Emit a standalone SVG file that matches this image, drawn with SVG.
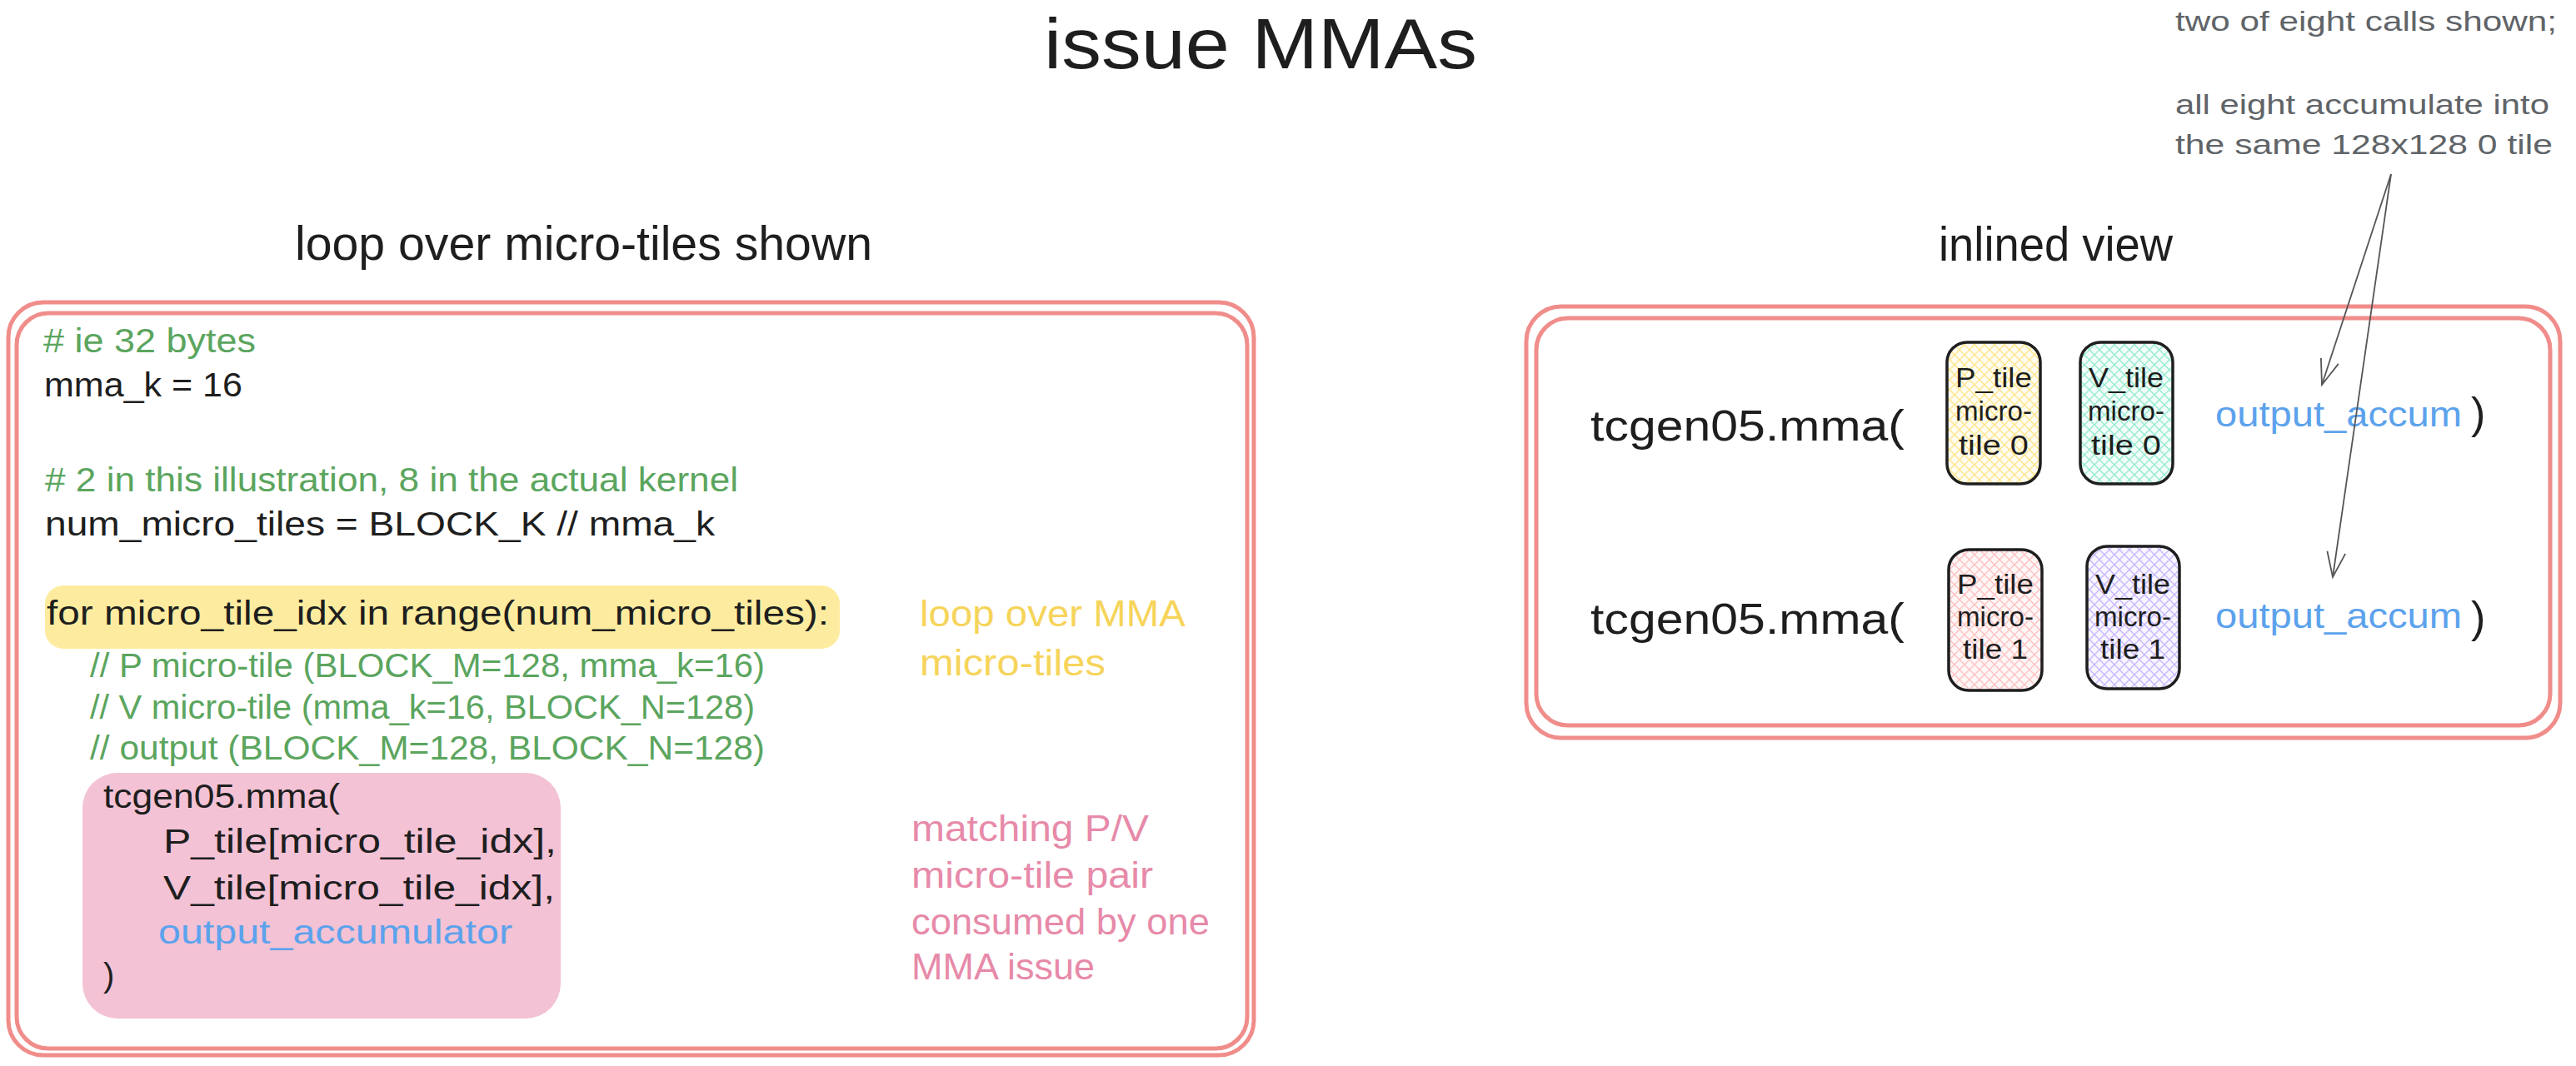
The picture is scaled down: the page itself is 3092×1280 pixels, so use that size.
<svg xmlns="http://www.w3.org/2000/svg" width="3092" height="1280" viewBox="0 0 3092 1280">
<style>
  text { font-family: "Liberation Sans", Arial, sans-serif; }
  .title { font-size: 86px; fill: #1e1e1e; }
  .head { font-size: 58px; fill: #1e1e1e; }
  .code { font-size: 40px; fill: #1e1e1e; }
  .cmt { fill: #5ba55e; }
  .blue { fill: #5ca2ec; }
  .note { font-size: 44px; }
  .yel { fill: #f6d45a; }
  .pnk { fill: #e78aa9; }
  .gray { font-size: 34px; fill: #606468; }
  .frame { fill: none; stroke: #f08d8a; stroke-width: 5; }
  .tile { stroke: #1e1e1e; stroke-width: 3.5; }
  .tt { font-size: 33px; fill: #1e1e1e; text-anchor: middle; }
  .big { font-size: 52px; fill: #1e1e1e; }
  .acc { font-size: 42px; }
  .conn { fill: none; stroke: #555; stroke-width: 1.8; }
</style>
<defs>
  <pattern id="hY" patternUnits="userSpaceOnUse" width="12" height="12"><rect width="12" height="12" fill="#fffdf2"/><path d="M0 0 L12 12 M12 0 L0 12" stroke="#ffe58a" stroke-width="1.4"/></pattern>
  <pattern id="hG" patternUnits="userSpaceOnUse" width="12" height="12"><rect width="12" height="12" fill="#f3fdf9"/><path d="M0 0 L12 12 M12 0 L0 12" stroke="#96ecd0" stroke-width="1.4"/></pattern>
  <pattern id="hR" patternUnits="userSpaceOnUse" width="12" height="12"><rect width="12" height="12" fill="#fff6f6"/><path d="M0 0 L12 12 M12 0 L0 12" stroke="#ffc2c2" stroke-width="1.4"/></pattern>
  <pattern id="hP" patternUnits="userSpaceOnUse" width="12" height="12"><rect width="12" height="12" fill="#f8f5ff"/><path d="M0 0 L12 12 M12 0 L0 12" stroke="#c9b8ff" stroke-width="1.4"/></pattern>
  <marker id="arr" markerUnits="userSpaceOnUse" markerWidth="40" markerHeight="30" viewBox="-35 -15 40 30" refX="0" refY="0" orient="auto">
    <path d="M-30 -11 L0 0 L-30 11" fill="none" stroke="#555" stroke-width="1.8"/>
  </marker>
</defs>
<rect width="3092" height="1280" fill="#ffffff"/>

<g id="title"><text class="title" x="1253" y="82" textLength="520" lengthAdjust="spacingAndGlyphs">issue MMAs</text></g>
<g id="left-heading"><text class="head" x="354" y="312" textLength="693" lengthAdjust="spacingAndGlyphs">loop over micro-tiles shown</text></g>
<g id="right-heading"><text class="head" x="2327" y="313" textLength="281" lengthAdjust="spacingAndGlyphs">inlined view</text></g>

<g id="note-gray">
  <text class="gray" x="2611" y="37" textLength="458" lengthAdjust="spacingAndGlyphs">two of eight calls shown;</text>
  <text class="gray" x="2611" y="137" textLength="449" lengthAdjust="spacingAndGlyphs">all eight accumulate into</text>
  <text class="gray" x="2611" y="185" textLength="453" lengthAdjust="spacingAndGlyphs">the same 128x128 0 tile</text>
</g>

<g id="left-frame">
  <rect class="frame" x="10" y="363" width="1495" height="904" rx="42"/>
  <rect class="frame" x="20" y="376" width="1477" height="883" rx="38"/>
</g>

<g id="code-block">
  <text class="code cmt" x="52" y="423" textLength="255" lengthAdjust="spacingAndGlyphs"># ie 32 bytes</text>
  <text class="code" x="53" y="476" textLength="238" lengthAdjust="spacingAndGlyphs">mma_k = 16</text>
  <text class="code cmt" x="54" y="590" textLength="832" lengthAdjust="spacingAndGlyphs"># 2 in this illustration, 8 in the actual kernel</text>
  <text class="code" x="54" y="643" textLength="804" lengthAdjust="spacingAndGlyphs">num_micro_tiles = BLOCK_K // mma_k</text>
</g>

<g id="loop-highlight">
  <rect x="54" y="703" width="954" height="76" rx="22" fill="#fdec9f"/>
  <text class="code" x="56" y="750" textLength="939" lengthAdjust="spacingAndGlyphs">for micro_tile_idx in range(num_micro_tiles):</text>
</g>

<g id="loop-comments">
  <text class="code cmt" x="108" y="813" textLength="810" lengthAdjust="spacingAndGlyphs">// P micro-tile (BLOCK_M=128, mma_k=16)</text>
  <text class="code cmt" x="108" y="863" textLength="798" lengthAdjust="spacingAndGlyphs">// V micro-tile (mma_k=16, BLOCK_N=128)</text>
  <text class="code cmt" x="108" y="912" textLength="810" lengthAdjust="spacingAndGlyphs">// output (BLOCK_M=128, BLOCK_N=128)</text>
</g>

<g id="mma-call">
  <rect x="99" y="928" width="574" height="295" rx="42" fill="#f3c2d5"/>
  <text class="code" x="124" y="970" textLength="284" lengthAdjust="spacingAndGlyphs">tcgen05.mma(</text>
  <text class="code" x="196" y="1024" textLength="472" lengthAdjust="spacingAndGlyphs">P_tile[micro_tile_idx],</text>
  <text class="code" x="196" y="1080" textLength="470" lengthAdjust="spacingAndGlyphs">V_tile[micro_tile_idx],</text>
  <text class="code blue" x="190" y="1133" textLength="425" lengthAdjust="spacingAndGlyphs">output_accumulator</text>
  <text class="code" x="124" y="1185">)</text>
</g>

<g id="note-loop">
  <text class="note yel" x="1104" y="752" textLength="319" lengthAdjust="spacingAndGlyphs">loop over MMA</text>
  <text class="note yel" x="1104" y="811" textLength="223" lengthAdjust="spacingAndGlyphs">micro-tiles</text>
</g>

<g id="note-pair">
  <text class="note pnk" x="1094" y="1010" textLength="285" lengthAdjust="spacingAndGlyphs">matching P/V</text>
  <text class="note pnk" x="1094" y="1066" textLength="290" lengthAdjust="spacingAndGlyphs">micro-tile pair</text>
  <text class="note pnk" x="1094" y="1122" textLength="358" lengthAdjust="spacingAndGlyphs">consumed by one</text>
  <text class="note pnk" x="1094" y="1176" textLength="220" lengthAdjust="spacingAndGlyphs">MMA issue</text>
</g>

<g id="right-frame">
  <rect class="frame" x="1832" y="368" width="1241" height="518" rx="42"/>
  <rect class="frame" x="1844" y="382" width="1217" height="489" rx="38"/>
</g>

<g id="call-0">
  <text class="big" x="1909" y="529" textLength="377" lengthAdjust="spacingAndGlyphs">tcgen05.mma(</text>
  <text class="acc blue" x="2659" y="512" textLength="296" lengthAdjust="spacingAndGlyphs">output_accum</text>
  <text class="big" x="2966" y="514">)</text>
</g>
<g id="P-tile-0">
  <rect class="tile" x="2337" y="411" width="112" height="170" rx="24" fill="url(#hY)"/>
  <text class="tt" x="2393" y="465" textLength="92" lengthAdjust="spacingAndGlyphs">P_tile</text>
  <text class="tt" x="2393" y="505" textLength="92" lengthAdjust="spacingAndGlyphs">micro-</text>
  <text class="tt" x="2393" y="546" textLength="84" lengthAdjust="spacingAndGlyphs">tile 0</text>
</g>
<g id="V-tile-0">
  <rect class="tile" x="2497" y="411" width="111" height="170" rx="24" fill="url(#hG)"/>
  <text class="tt" x="2552" y="465" textLength="90" lengthAdjust="spacingAndGlyphs">V_tile</text>
  <text class="tt" x="2552" y="505" textLength="92" lengthAdjust="spacingAndGlyphs">micro-</text>
  <text class="tt" x="2552" y="546" textLength="84" lengthAdjust="spacingAndGlyphs">tile 0</text>
</g>

<g id="call-1">
  <text class="big" x="1909" y="761" textLength="377" lengthAdjust="spacingAndGlyphs">tcgen05.mma(</text>
  <text class="acc blue" x="2659" y="754" textLength="296" lengthAdjust="spacingAndGlyphs">output_accum</text>
  <text class="big" x="2966" y="759">)</text>
</g>
<g id="P-tile-1">
  <rect class="tile" x="2339" y="660" width="112" height="169" rx="24" fill="url(#hR)"/>
  <text class="tt" x="2395" y="713" textLength="92" lengthAdjust="spacingAndGlyphs">P_tile</text>
  <text class="tt" x="2395" y="752" textLength="92" lengthAdjust="spacingAndGlyphs">micro-</text>
  <text class="tt" x="2395" y="791" textLength="78" lengthAdjust="spacingAndGlyphs">tile 1</text>
</g>
<g id="V-tile-1">
  <rect class="tile" x="2505" y="656" width="111" height="171" rx="24" fill="url(#hP)"/>
  <text class="tt" x="2560" y="713" textLength="90" lengthAdjust="spacingAndGlyphs">V_tile</text>
  <text class="tt" x="2560" y="752" textLength="92" lengthAdjust="spacingAndGlyphs">micro-</text>
  <text class="tt" x="2560" y="791" textLength="78" lengthAdjust="spacingAndGlyphs">tile 1</text>
</g>

<g id="connectors">
  <path class="conn" d="M2870 209 L2787 462" marker-end="url(#arr)"/>
  <path class="conn" d="M2870 209 L2800 693" marker-end="url(#arr)"/>
</g>
</svg>
